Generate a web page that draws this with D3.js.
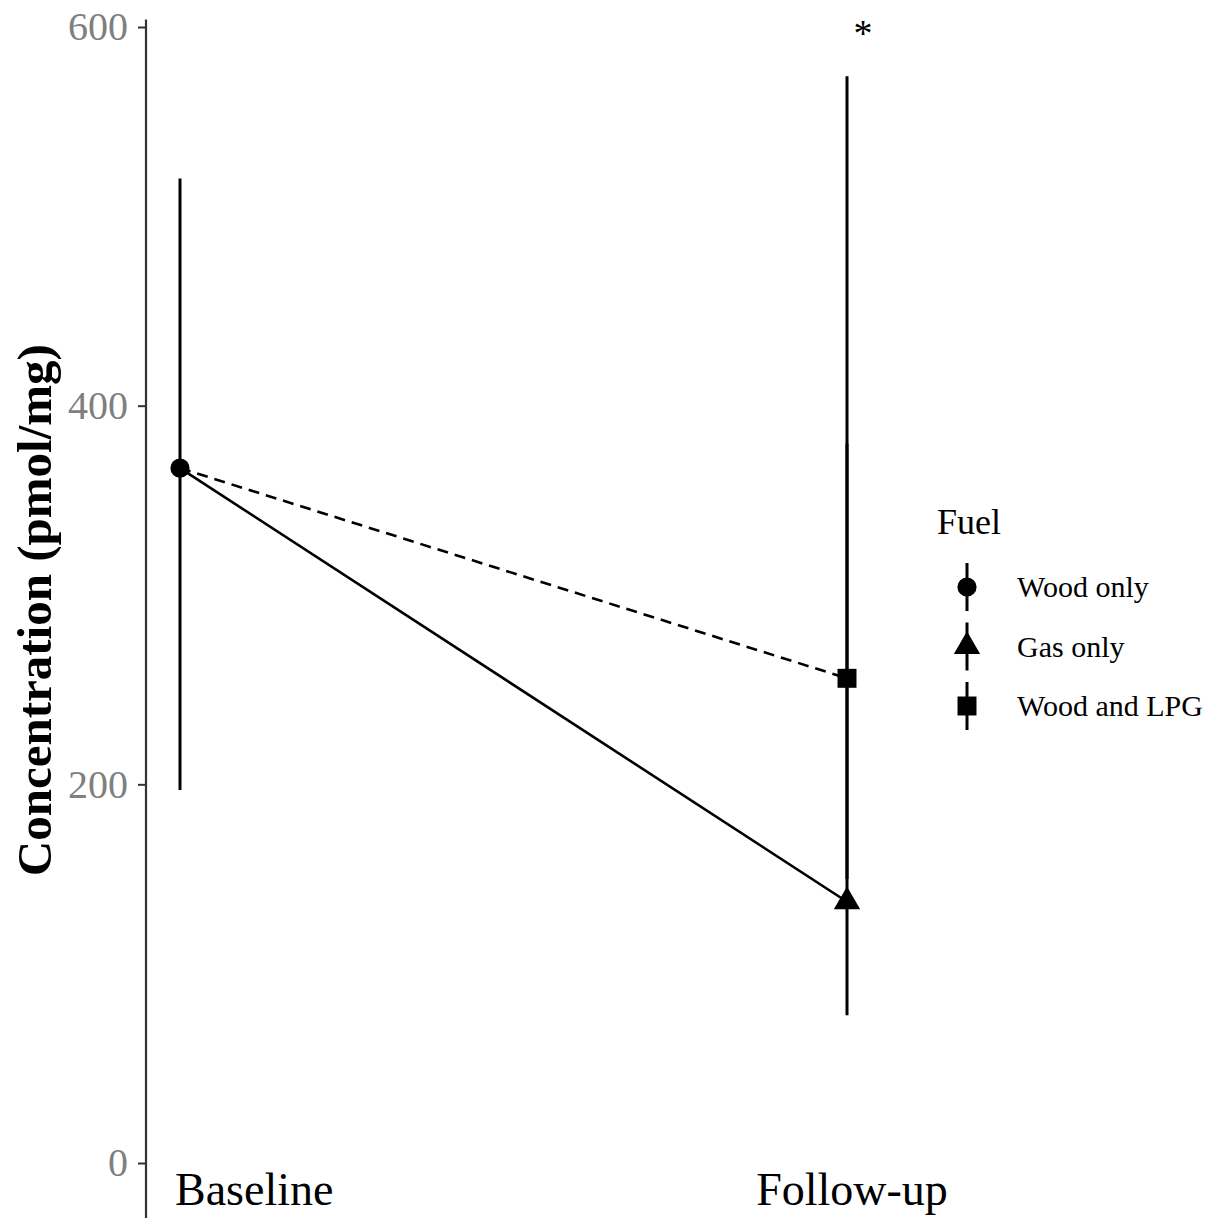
<!DOCTYPE html>
<html>
<head>
<meta charset="utf-8">
<script src="https://cdn.jsdelivr.net/npm/d3@7.9.0/dist/d3.min.js"></script>
<style>
  body { margin: 0; background: #fff; }
  svg { display: block; font-family: "Liberation Serif", "DejaVu Serif", serif; }
</style>
</head>
<body>
<svg width="1222" height="1218"></svg>
<script>
// data
const timepoints = ['Baseline', 'Follow-up'];
const fuels = ['Wood only', 'Gas only', 'Wood and LPG'];
const yTicks = [0, 200, 400, 600];

// points: [time, fuel, mean, lower, upper]
const points = [
  ['Baseline', 'Wood only', 367, 197, 520],
  ['Follow-up', 'Gas only', 138, 78, 380],
  ['Follow-up', 'Wood and LPG', 256, 150, 574],
];

// connecting lines from the baseline value
const lines = [
  { fuel: 'Gas only', values: [367, 138], dashed: false },
  { fuel: 'Wood and LPG', values: [367, 256], dashed: true },
];

const svg = d3.select('svg');

const x = d3.scalePoint().domain(timepoints).range([180, 847]);
const y = d3.scaleLinear().domain([0, 600]).range([1163, 27]);

const shape = d3.scaleOrdinal()
  .domain(fuels)
  .range([d3.symbolCircle, d3.symbolTriangle, d3.symbolSquare]);
const shapeSize = { 'Wood only': 290, 'Gas only': 300, 'Wood and LPG': 360 };

// y axis
const yAxis = svg.append('g')
  .attr('transform', 'translate(146,0)')
  .call(d3.axisLeft(y).tickValues(yTicks).tickSize(8).tickPadding(10));
yAxis.select('.domain').remove();
yAxis.selectAll('.tick line').attr('stroke', '#333').attr('stroke-width', 2);
yAxis.selectAll('.tick text')
  .attr('fill', '#7f7f7f')
  .attr('font-size', 40)
  .attr('font-family', 'Liberation Serif');
yAxis.append('line')
  .attr('y1', y(604)).attr('y2', y(-30))
  .attr('stroke', '#333').attr('stroke-width', 2.2);

// y title
svg.append('text')
  .attr('transform', `translate(51,${y(292)}) rotate(-90)`)
  .attr('text-anchor', 'middle')
  .attr('font-weight', 'bold')
  .attr('font-size', 49)
  .text('Concentration (pmol/mg)');

// x labels
svg.append('text')
  .attr('x', x('Baseline') - 5).attr('y', 1205)
  .attr('font-size', 46)
  .text('Baseline');
svg.append('text')
  .attr('x', x('Follow-up') + 5).attr('y', 1205)
  .attr('text-anchor', 'middle')
  .attr('font-size', 46)
  .text('Follow-up');

// error bars
svg.selectAll('.err')
  .data(points)
  .join('line')
  .attr('x1', (d) => x(d[0])).attr('x2', (d) => x(d[0]))
  .attr('y1', (d) => y(d[3])).attr('y2', (d) => y(d[4]))
  .attr('stroke', '#000').attr('stroke-width', 3);

// connecting lines
lines.forEach((l) => {
  svg.append('line')
    .attr('x1', x(timepoints[0])).attr('y1', y(l.values[0]))
    .attr('x2', x(timepoints[1])).attr('y2', y(l.values[1]))
    .attr('stroke', '#000').attr('stroke-width', 2.6)
    .attr('stroke-dasharray', l.dashed ? '11,7' : null);
});

// points
svg.selectAll('.pt')
  .data(points)
  .join('path')
  .attr('transform', (d) => `translate(${x(d[0])},${y(d[2])})`)
  .attr('d', (d) => d3.symbol(shape(d[1]), shapeSize[d[1]])())
  .attr('fill', '#000');

// significance star
svg.append('text')
  .attr('x', 863).attr('y', 46)
  .attr('text-anchor', 'middle')
  .attr('font-size', 38)
  .text('*');

// legend
const legend = svg.append('g').attr('transform', 'translate(937,0)');
legend.append('text')
  .attr('x', 0).attr('y', 534)
  .attr('font-size', 36)
  .text('Fuel');
const ly = d3.scalePoint().domain(fuels).range([587, 706]);
fuels.forEach((f) => {
  const g = legend.append('g').attr('transform', `translate(30,${ly(f)})`);
  g.append('line')
    .attr('y1', -24).attr('y2', 24)
    .attr('stroke', '#000').attr('stroke-width', 3);
  g.append('path')
    .attr('d', d3.symbol(shape(f), shapeSize[f])())
    .attr('fill', '#000');
  g.append('text')
    .attr('x', 50).attr('y', 10)
    .attr('font-size', 30)
    .text(f);
});
</script>
</body>
</html>
